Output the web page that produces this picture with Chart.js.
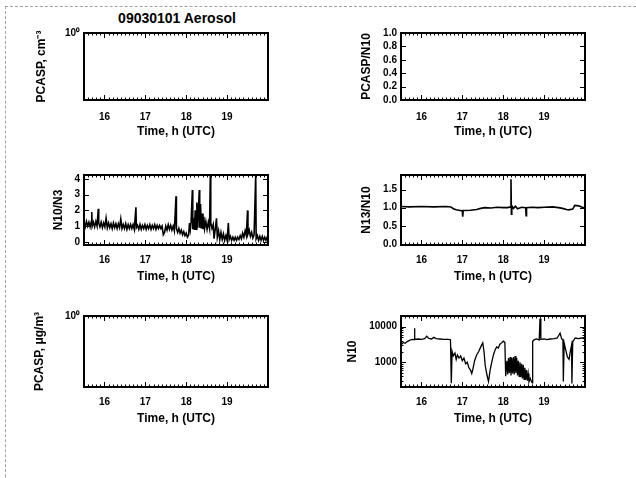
<!DOCTYPE html>
<html>
<head>
<meta charset="utf-8">
<script src="https://cdn.jsdelivr.net/npm/chart.js@4.4.1/dist/chart.umd.min.js"></script>
<style>
  body { margin: 0; background: #fff; width: 636px; height: 478px; overflow: hidden; position: relative; font-family: 'Liberation Sans', Arial, sans-serif; }
  .page { position: absolute; left: 5px; top: 6px; width: 700px; height: 500px; border-top: 1px dashed #a0a0a0; border-left: 1px dashed #a0a0a0; }
  canvas { position: absolute; }
  #title { position: absolute; left: 77px; width: 200px; top: 10px; text-align: center; font-weight: bold; font-size: 14px; }
</style>
</head>
<body>
<div class="page"></div>
<div id="title">09030101 Aerosol</div>
<canvas id="pcaspConc" width="258" height="119" style="left:20px;top:23px"></canvas>
<canvas id="pcaspRatio" width="265" height="119" style="left:330px;top:23px"></canvas>
<canvas id="n10n3" width="258" height="122" style="left:20px;top:165px"></canvas>
<canvas id="n13n10" width="265" height="122" style="left:330px;top:165px"></canvas>
<canvas id="pcaspMass" width="258" height="123" style="left:20px;top:306px"></canvas>
<canvas id="n10" width="265" height="123" style="left:330px;top:306px"></canvas>
<script>
// time axis (hours UTC)
const timeMin = 15.5;
const timeMax = 20.0;
const hourTicks = [16, 17, 18, 19];

// N10/N3 ratio
const n10n3Time = [15.50, 15.53, 15.56, 15.59, 15.62, 15.65, 15.68, 15.69, 15.70, 15.73, 15.76, 15.79, 15.82, 15.85, 15.86, 15.89, 15.92, 15.95, 15.98, 16.01,
  16.04, 16.07, 16.10, 16.13, 16.16, 16.19, 16.22, 16.25, 16.28, 16.31, 16.34, 16.37, 16.40, 16.43, 16.46, 16.49, 16.52, 16.55, 16.58, 16.61,
  16.64, 16.67, 16.70, 16.73, 16.77, 16.78, 16.81, 16.84, 16.87, 16.90, 16.93, 16.96, 16.99, 17.02, 17.05, 17.08, 17.11, 17.14, 17.17, 17.20,
  17.23, 17.26, 17.29, 17.32, 17.35, 17.38, 17.41, 17.44, 17.47, 17.50, 17.53, 17.56, 17.59, 17.62, 17.65, 17.68, 17.71, 17.75, 17.76, 17.79,
  17.82, 17.85, 17.88, 17.91, 17.94, 17.97, 18.00, 18.03, 18.06, 18.08, 18.10, 18.12, 18.15, 18.16, 18.18, 18.20, 18.22, 18.24, 18.26, 18.28,
  18.30, 18.32, 18.33, 18.35, 18.37, 18.39, 18.41, 18.43, 18.45, 18.48, 18.51, 18.54, 18.57, 18.59, 18.60, 18.63, 18.66, 18.68, 18.71, 18.74,
  18.76, 18.79, 18.82, 18.85, 18.88, 18.91, 18.94, 18.97, 19.00, 19.03, 19.05, 19.08, 19.11, 19.14, 19.17, 19.20, 19.23, 19.26, 19.29, 19.32,
  19.35, 19.38, 19.41, 19.44, 19.47, 19.50, 19.51, 19.54, 19.57, 19.60, 19.63, 19.66, 19.70, 19.71, 19.74, 19.77, 19.80, 19.83, 19.86, 19.89,
  19.92, 19.95, 19.98, 20.00];
const n10n3Ratio = [1.25, 0.95, 1.30, 1.00, 1.25, 0.95, 1.30, 1.90, 1.00, 1.25, 0.95, 1.30, 1.00, 2.10, 1.20, 0.95, 1.25, 0.90, 1.20, 0.95,
  1.50, 0.90, 1.20, 0.90, 1.15, 0.85, 1.20, 0.90, 1.15, 0.85, 1.15, 0.90, 1.45, 0.85, 1.10, 0.85, 1.15, 0.80, 1.10, 0.85,
  1.10, 0.85, 1.10, 0.80, 2.20, 0.90, 1.05, 0.80, 1.10, 0.80, 1.05, 0.85, 1.10, 0.80, 1.05, 0.85, 1.10, 0.80, 1.05, 0.85,
  1.10, 0.80, 1.05, 0.85, 1.05, 0.85, 1.00, 0.45, 0.60, 1.00, 0.75, 1.10, 0.80, 1.05, 0.75, 1.00, 0.70, 2.90, 0.85, 0.60,
  0.85, 0.55, 0.75, 0.45, 0.65, 0.40, 0.55, 0.30, 0.45, 1.20, 0.80, 1.30, 3.30, 0.80, 1.50, 0.75, 2.00, 0.80, 2.50, 0.90,
  2.20, 3.30, 0.90, 2.40, 0.85, 1.80, 0.80, 1.60, 0.85, 1.30, 0.80, 1.25, 0.85, 4.30, 1.20, 0.85, 1.10, 0.20, 0.80, 1.50,
  0.30, 0.70, 0.15, 0.60, 0.15, 0.50, 0.10, 0.40, 0.10, 1.20, 0.15, 0.35, 0.10, 0.30, 0.10, 0.30, 0.10, 0.30, 0.15, 0.40,
  0.20, 0.55, 0.30, 0.70, 0.40, 2.00, 0.50, 0.75, 0.35, 0.60, 0.25, 0.45, 4.30, 0.20, 0.40, 0.10, 0.35, 0.10, 0.35, 0.10,
  0.30, 0.10, 0.30, 0.15];

// N13/N10 ratio
const n13n10Time = [15.50, 15.70, 16.00, 16.30, 16.60, 16.72, 16.78, 16.85, 16.95, 17.00, 17.01, 17.02, 17.20, 17.35, 17.45, 17.55, 17.70, 17.85, 18.00, 18.10,
  18.18, 18.19, 18.20, 18.21, 18.25, 18.30, 18.35, 18.45, 18.55, 18.56, 18.57, 18.70, 18.85, 19.00, 19.20, 19.35, 19.45, 19.55, 19.60, 19.70,
  19.75, 19.85, 19.95, 20.00];
const n13n10Ratio = [1.03, 1.02, 1.03, 1.02, 1.03, 1.02, 0.97, 0.94, 0.92, 0.91, 0.75, 0.92, 0.93, 0.95, 0.98, 1.00, 0.99, 1.01, 1.00, 1.00,
  1.02, 1.78, 0.82, 1.05, 0.98, 1.04, 0.97, 1.01, 1.00, 0.78, 1.00, 1.01, 1.00, 1.01, 1.02, 1.00, 0.98, 0.95, 0.94, 0.96,
  1.06, 1.05, 1.00, 1.00];

// N10 concentration
const n10Time = [15.50, 15.55, 15.60, 15.65, 15.72, 15.78, 15.82, 15.83, 15.84, 15.92, 16.00, 16.08, 16.13, 16.18, 16.25, 16.30, 16.36, 16.45, 16.55, 16.65,
  16.71, 16.73, 16.75, 16.78, 16.82, 16.85, 16.88, 16.92, 16.96, 17.00, 17.04, 17.08, 17.12, 17.16, 17.20, 17.23, 17.26, 17.30, 17.35, 17.40,
  17.45, 17.50, 17.53, 17.56, 17.60, 17.64, 17.68, 17.72, 17.76, 17.80, 17.84, 17.88, 17.92, 17.96, 18.00, 18.04, 18.06, 18.09, 18.11, 18.13,
  18.15, 18.17, 18.19, 18.21, 18.23, 18.25, 18.27, 18.29, 18.31, 18.33, 18.35, 18.37, 18.39, 18.41, 18.43, 18.45, 18.47, 18.49, 18.51, 18.53,
  18.55, 18.57, 18.59, 18.61, 18.63, 18.66, 18.69, 18.71, 18.72, 18.76, 18.82, 18.88, 18.90, 18.92, 19.00, 19.06, 19.15, 19.25, 19.32, 19.39,
  19.43, 19.46, 19.47, 19.49, 19.53, 19.57, 19.61, 19.64, 19.67, 19.68, 19.70, 19.76, 19.84, 19.92, 20.00];
const n10Conc = [3000, 3600, 3400, 3800, 4200, 4400, 4300, 9000, 4400, 4500, 4400, 4600, 5400, 4700, 4500, 5000, 4600, 4500, 4400, 4400,
  4300, 255, 2000, 1500, 1800, 1200, 1600, 1300, 1500, 1100, 1300, 900, 1000, 700, 600, 480, 650, 1100, 1600, 2000,
  2700, 3500, 2000, 800, 450, 285, 600, 1000, 1600, 2200, 2700, 2500, 3200, 3500, 3900, 3600, 400, 1100, 450, 1300,
  500, 1400, 420, 1300, 480, 1400, 450, 1500, 500, 1300, 420, 1100, 400, 1000, 380, 900, 350, 850, 330, 700,
  320, 600, 300, 480, 280, 350, 285, 260, 3900, 4300, 4500, 4200, 16900, 4400, 4500, 4300, 4500, 4600, 4800, 6600,
  4500, 4200, 285, 3500, 2200, 1400, 1200, 2000, 3000, 250, 3800, 4800, 4600, 4800, 4500];

// y tick values
const emptyLogTicks = [1];
const pcaspRatioTicks = [0, 0.2, 0.4, 0.6, 0.8, 1.0];
const n10n3Ticks = [0, 1, 2, 3, 4];
const n13n10Ticks = [0, 0.5, 1.0, 1.5];
const n10Ticks = [1000, 10000];

Chart.defaults.font.family = "'Liberation Sans', Arial, sans-serif";
Chart.defaults.font.size = 10;
Chart.defaults.font.weight = 'bold';
Chart.defaults.color = '#000';

// IDL style box with inward ticks on all four sides
const boxTicks = {
  id: 'boxTicks',
  afterDraw(chart, args, opts) {
    const { ctx, chartArea: a, scales } = chart;
    const xs = scales.x, ys = scales.y;
    ctx.save();
    ctx.strokeStyle = '#000';
    ctx.lineWidth = 1;
    ctx.beginPath();
    for (let i = Math.ceil(xs.min * 10); i <= Math.floor(xs.max * 10); i++) {
      const px = Math.round(xs.getPixelForValue(i / 10)) + 0.5;
      const len = i % 10 === 0 ? 5 : 2.5;
      ctx.moveTo(px, a.bottom); ctx.lineTo(px, a.bottom - len);
      ctx.moveTo(px, a.top); ctx.lineTo(px, a.top + len);
    }
    ys.ticks.forEach(t => {
      const py = Math.round(ys.getPixelForValue(t.value)) + 0.5;
      ctx.moveTo(a.left, py); ctx.lineTo(a.left + 5, py);
      ctx.moveTo(a.right, py); ctx.lineTo(a.right - 5, py);
    });
    if (opts.minorY && ys.type === 'logarithmic') {
      for (let d = Math.floor(Math.log10(ys.min)); d <= Math.ceil(Math.log10(ys.max)); d++) {
        for (let m = 2; m <= 9; m++) {
          const v = m * Math.pow(10, d);
          if (v <= ys.min || v >= ys.max) continue;
          const py = Math.round(ys.getPixelForValue(v)) + 0.5;
          ctx.moveTo(a.left, py); ctx.lineTo(a.left + 2.5, py);
          ctx.moveTo(a.right, py); ctx.lineTo(a.right - 2.5, py);
        }
      }
    }
    ctx.stroke();
    ctx.lineWidth = 2;
    ctx.strokeRect(a.left, a.top, a.right - a.left, a.bottom - a.top);
    ctx.restore();
  }
};

function timeAxis(labelPad) {
  return {
    type: 'linear', min: timeMin, max: timeMax,
    grid: { display: false, drawTicks: false }, border: { display: false },
    afterBuildTicks: s => { s.ticks = hourTicks.map(v => ({ value: v })); },
    afterFit: s => { s.height = 42; },
    ticks: { padding: labelPad, maxRotation: 0, autoSkip: false, callback: v => String(v) },
    title: { display: true, text: 'Time, h (UTC)', font: { size: 12, weight: 'bold' }, padding: { top: 0, bottom: 3.5 } }
  };
}

function valueAxis(cfg) {
  return {
    type: cfg.type, min: cfg.min, max: cfg.max,
    grid: { display: false, drawTicks: false }, border: { display: false },
    afterBuildTicks: s => { s.ticks = cfg.ticks.map(v => ({ value: v })); },
    afterFit: s => { s.width = cfg.width; },
    ticks: { padding: 4, autoSkip: false, callback: cfg.label },
    title: { display: true, text: cfg.title, font: { size: 12, weight: 'bold' }, padding: { top: cfg.titlePad, bottom: 0 } }
  };
}

function makePanel(id, datasets, xPad, yCfg, minorY) {
  return new Chart(document.getElementById(id), {
    type: 'line',
    data: { datasets: datasets },
    options: {
      responsive: false,
      animation: false,
      devicePixelRatio: 1,
      layout: { padding: { top: 10, right: 10, left: 0, bottom: 0 } },
      plugins: { legend: { display: false }, tooltip: { enabled: false }, boxTicks: { minorY: minorY } },
      elements: { point: { radius: 0 }, line: { tension: 0, borderColor: '#000' } },
      scales: { x: timeAxis(xPad), y: valueAxis(yCfg) }
    },
    plugins: [boxTicks]
  });
}

function series(xs, ys, width) {
  return { data: xs.map((t, i) => ({ x: t, y: ys[i] })), borderColor: '#000', borderWidth: width, fill: false };
}

makePanel('pcaspConc', [], 11,
  { type: 'logarithmic', min: 0.1, max: 1, ticks: emptyLogTicks, width: 64, title: 'PCASP, cm⁻³', titlePad: 14.8, label: () => '10⁰' }, false);

makePanel('pcaspRatio', [], 11,
  { type: 'linear', min: 0, max: 1, ticks: pcaspRatioTicks, width: 71, title: 'PCASP/N10', titlePad: 29.5, label: v => v.toFixed(1) }, false);

makePanel('n10n3', [series(n10n3Time, n10n3Ratio, 1.6)], 9,
  { type: 'linear', min: -0.2, max: 4.25, ticks: n10n3Ticks, width: 64, title: 'N10/N3', titlePad: 31.8, label: v => String(v) }, false);

makePanel('n13n10', [series(n13n10Time, n13n10Ratio, 1.6)], 9,
  { type: 'linear', min: -0.03, max: 1.9, ticks: n13n10Ticks, width: 71, title: 'N13/N10', titlePad: 29.5, label: v => v.toFixed(1) }, false);

makePanel('pcaspMass', [], 9,
  { type: 'logarithmic', min: 0.1, max: 1, ticks: emptyLogTicks, width: 64, title: 'PCASP, μg/m³', titlePad: 12.8, label: () => '10⁰' }, false);

makePanel('n10', [series(n10Time, n10Conc, 1.3)], 9,
  { type: 'logarithmic', min: 200, max: 20000, ticks: n10Ticks, width: 71, title: 'N10', titlePad: 15.5, label: v => String(v) }, true);
</script>
</body>
</html>
